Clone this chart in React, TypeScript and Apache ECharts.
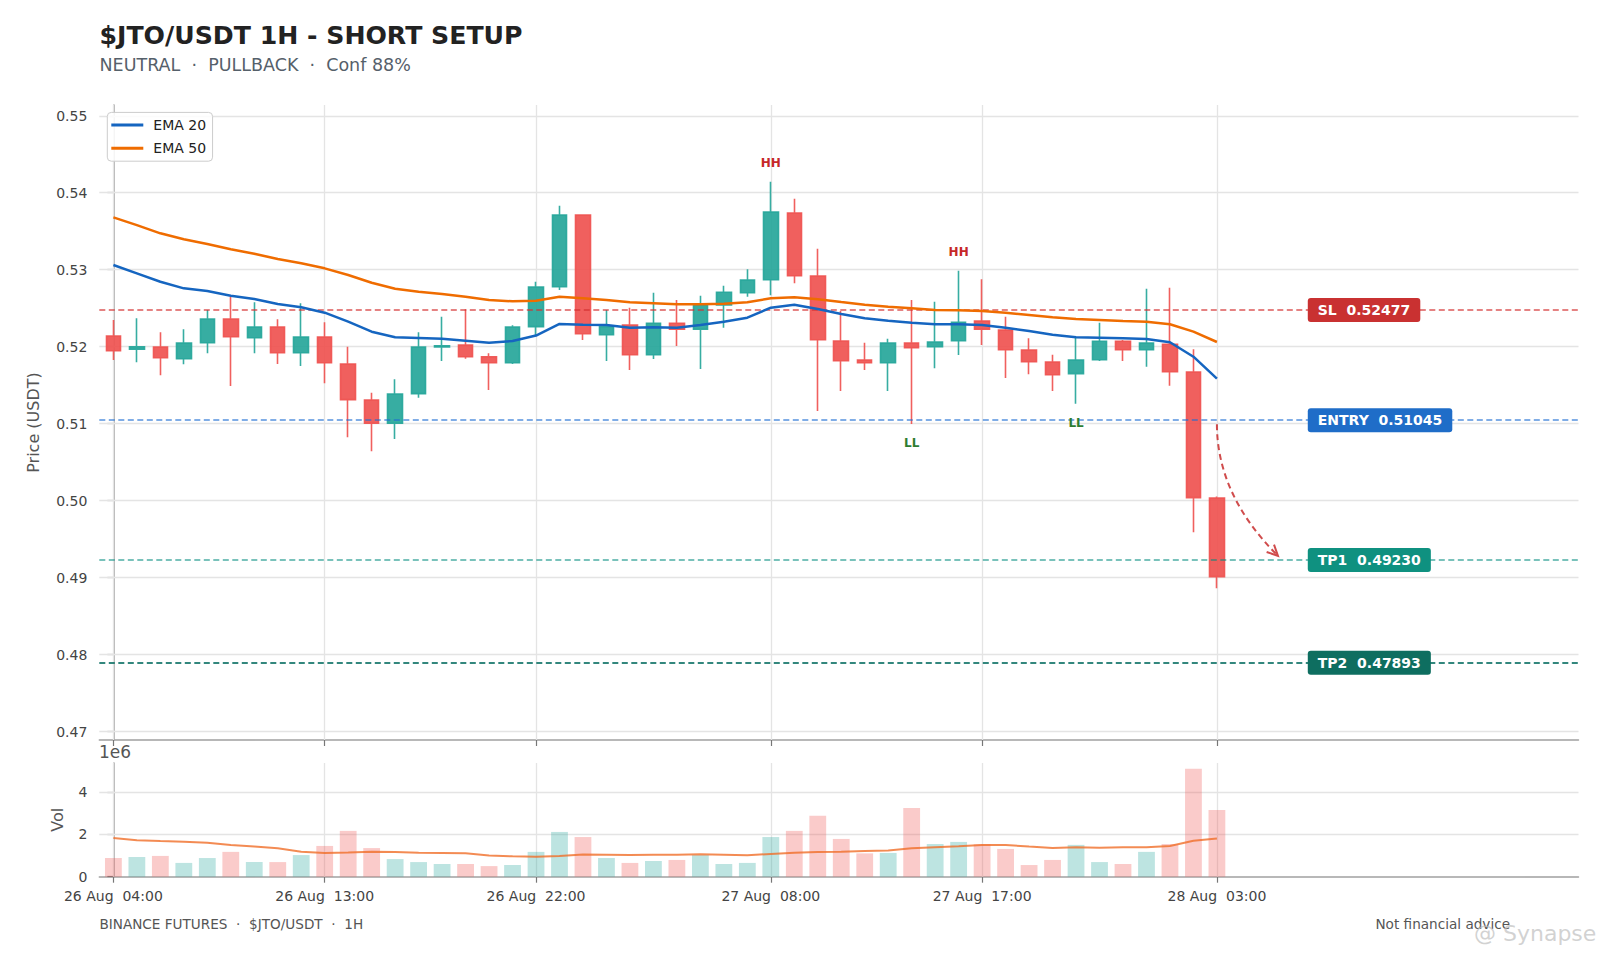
import React, { useEffect, useRef } from "react";
import * as echarts from "echarts";

const FONT = "DejaVu Sans";

// ---- Data ----
const OPEN = [0.52139, 0.51966, 0.51996, 0.51844, 0.52052, 0.5236, 0.52117, 0.52256, 0.51922, 0.52126, 0.51775, 0.51308, 0.51005, 0.5139, 0.51996, 0.52022, 0.5187, 0.51792, 0.5226, 0.52779, 0.5371, 0.52156, 0.52282, 0.51896, 0.52304, 0.52226, 0.52542, 0.52701, 0.5287, 0.53736, 0.52918, 0.52074, 0.51827, 0.51792, 0.52048, 0.52, 0.52078, 0.52334, 0.52217, 0.51957, 0.51801, 0.5165, 0.51831, 0.5207, 0.51961, 0.52031, 0.51671, 0.50035];
const CLOSE = [0.51948, 0.52, 0.51857, 0.52048, 0.5236, 0.5213, 0.52256, 0.51922, 0.52126, 0.51792, 0.51312, 0.51005, 0.51386, 0.51996, 0.52013, 0.5187, 0.51792, 0.52256, 0.52775, 0.5371, 0.52169, 0.5226, 0.51896, 0.52304, 0.52226, 0.52542, 0.52707, 0.52866, 0.53749, 0.52922, 0.52091, 0.51818, 0.51792, 0.52048, 0.51987, 0.52061, 0.52317, 0.52226, 0.51961, 0.51805, 0.51636, 0.51827, 0.5207, 0.51961, 0.52048, 0.51675, 0.50039, 0.49013];
const LOW = [0.51827, 0.51797, 0.51629, 0.51771, 0.51914, 0.5149, 0.51914, 0.51775, 0.5175, 0.51525, 0.50823, 0.5064, 0.50801, 0.51338, 0.51814, 0.51844, 0.51438, 0.51775, 0.52152, 0.52736, 0.52087, 0.51814, 0.51697, 0.5184, 0.52009, 0.5171, 0.52247, 0.52649, 0.52668, 0.52823, 0.51165, 0.51425, 0.51697, 0.51425, 0.50996, 0.5172, 0.51892, 0.52022, 0.51594, 0.51642, 0.51425, 0.5126, 0.51814, 0.51814, 0.5174, 0.51494, 0.4959, 0.48862];
const HIGH = [0.52347, 0.52369, 0.52187, 0.52226, 0.52477, 0.52649, 0.52577, 0.52356, 0.52564, 0.52317, 0.52, 0.51403, 0.51577, 0.52187, 0.5239, 0.52486, 0.51914, 0.52278, 0.52844, 0.53831, 0.5372, 0.52477, 0.52507, 0.52701, 0.52607, 0.52662, 0.52792, 0.53005, 0.54143, 0.53922, 0.53273, 0.52464, 0.52052, 0.52104, 0.52607, 0.52584, 0.52987, 0.52875, 0.5239, 0.52109, 0.51896, 0.52122, 0.52312, 0.52087, 0.52753, 0.52766, 0.51966, 0.50052];
const EMA20 = [0.53061, 0.52953, 0.52844, 0.52758, 0.52723, 0.52662, 0.5262, 0.52555, 0.52512, 0.52442, 0.52325, 0.52195, 0.52122, 0.52113, 0.52104, 0.52078, 0.52052, 0.52074, 0.52145, 0.52295, 0.52286, 0.52282, 0.52247, 0.52252, 0.52247, 0.52282, 0.52325, 0.52377, 0.52507, 0.52545, 0.5249, 0.52425, 0.52369, 0.52338, 0.5231, 0.52291, 0.52291, 0.52282, 0.52247, 0.52204, 0.52156, 0.52122, 0.52117, 0.52109, 0.521, 0.52057, 0.5187, 0.51584];
const EMA50 = [0.5368, 0.5358, 0.53473, 0.53395, 0.53334, 0.53265, 0.53208, 0.53139, 0.53083, 0.53018, 0.52931, 0.52831, 0.52753, 0.52714, 0.52684, 0.52649, 0.52607, 0.5259, 0.52597, 0.52649, 0.52629, 0.52607, 0.52577, 0.52564, 0.52551, 0.52551, 0.52558, 0.52577, 0.52629, 0.52642, 0.52616, 0.5258, 0.52545, 0.5252, 0.525, 0.52477, 0.52473, 0.52464, 0.52442, 0.52412, 0.52382, 0.5236, 0.52347, 0.52334, 0.52325, 0.52291, 0.52195, 0.52061];
const VOLUME = [0.88, 0.93, 0.98, 0.65, 0.88, 1.17, 0.69, 0.69, 1.02, 1.45, 2.16, 1.35, 0.83, 0.69, 0.6, 0.6, 0.5, 0.55, 1.17, 2.11, 1.87, 0.88, 0.65, 0.74, 0.79, 1.02, 0.6, 0.65, 1.87, 2.16, 2.87, 1.78, 1.1, 1.12, 3.24, 1.54, 1.64, 1.53, 1.31, 0.55, 0.79, 1.5, 0.69, 0.6, 1.17, 1.54, 5.09, 3.15];
const VOL_MA = [1.83, 1.72, 1.68, 1.65, 1.6, 1.5, 1.42, 1.34, 1.18, 1.12, 1.14, 1.18, 1.16, 1.13, 1.12, 1.1, 1.0, 0.96, 0.94, 0.98, 1.05, 1.04, 1.02, 1.03, 1.04, 1.06, 1.04, 1.01, 1.07, 1.13, 1.16, 1.18, 1.21, 1.23, 1.34, 1.39, 1.43, 1.5, 1.5, 1.42, 1.35, 1.39, 1.37, 1.39, 1.39, 1.45, 1.69, 1.8];
const VOL_SCALE = 1e6;

const TICK_IDX = [0, 9, 18, 28, 37, 47];
const TICK_LABELS = ["26 Aug  04:00", "26 Aug  13:00", "26 Aug  22:00", "27 Aug  08:00", "27 Aug  17:00", "28 Aug  03:00"];
const PRICE_TICKS = [0.47, 0.48, 0.49, 0.5, 0.51, 0.52, 0.53, 0.54, 0.55];
const VOL_TICKS = [0, 2, 4];

const LEVEL_NAMES = ["SL", "ENTRY", "TP1", "TP2"];
const LEVEL_VALUES = [0.52477, 0.51045, 0.4923, 0.47893];
const LEVEL_LINE_COLORS = ["rgba(211,47,47,0.8)", "rgba(30,110,210,0.75)", "rgba(0,140,125,0.7)", "rgba(0,105,92,0.8)"];
const LEVEL_BADGE_COLORS = ["#c93131", "#1f6dc8", "#0f9180", "#0e6e60"];
const BADGE_X = 50.87;

const HH_IDX = [28, 36];
const LL_IDX = [34, 41];
const ARROW = [[47, 0.51045, 49.6, 0.4923]];

const TITLE = "$JTO/USDT 1H - SHORT SETUP";
const SUBTITLE = "NEUTRAL  \u00b7  PULLBACK  \u00b7  Conf 88%";
const FOOTER_LEFT = "BINANCE FUTURES  \u00b7  $JTO/USDT  \u00b7  1H";
const FOOTER_RIGHT = "Not financial advice";
const WATERMARK = "@ Synapse";

const UP = "#26a69a";
const DOWN = "#ef5350";
const AXIS_COLOR = "#a0a0a0";
const GRID_COLOR = "#e4e4e4";
const LABEL_COLOR = "#444444";

export default function App() {
  const ref = useRef<HTMLDivElement>(null);
  useEffect(() => {
    if (!ref.current) return;
    const chart = echarts.init(ref.current, undefined, { renderer: "svg" });

    const candles = OPEN.map((o, i) => [i, o, CLOSE[i], LOW[i], HIGH[i]]);
    const volData = VOLUME.map((v, i) => ({
      value: [i, v * VOL_SCALE],
      itemStyle: { color: CLOSE[i] >= OPEN[i] ? "rgba(38,166,154,0.3)" : "rgba(239,83,80,0.3)" },
    }));

    const axisLineStyle = { color: AXIS_COLOR, width: 1.5 };
    const tickStyle = { color: "#777", width: 1.2 };

    const gridLines = (yVals: number[], gi: number) => ({
      type: "line",
      xAxisIndex: gi,
      yAxisIndex: gi,
      data: [],
      silent: true,
      z: 0,
      markLine: {
        silent: true,
        z: 1,
        precision: 8,
        symbol: ["none", "none"],
        label: { show: false },
        lineStyle: { color: GRID_COLOR, width: 1.3, type: "solid" },
        data: [...yVals.map((v) => ({ yAxis: v })), ...TICK_IDX.map((v) => ({ xAxis: v }))],
      },
    });

    const option: any = {
      animation: false,
      backgroundColor: "#ffffff",
      textStyle: { fontFamily: FONT },
      grid: [
        { left: 99.3, top: 105, width: 1479.2, height: 635 },
        { left: 99.3, top: 763, width: 1479.2, height: 113.7 },
      ],
      legend: {
        orient: "vertical",
        left: 107.3,
        top: 112.4,
        selectedMode: false,
        data: [
          { name: "EMA 20", icon: "rect" },
          { name: "EMA 50", icon: "rect" },
        ],
        itemWidth: 32,
        itemHeight: 3,
        itemGap: 9.3,
        padding: [5.5, 6.5, 6, 4],
        backgroundColor: "rgba(255,255,255,0.85)",
        borderColor: "#cccccc",
        borderWidth: 1,
        borderRadius: 4,
        textStyle: { fontSize: 14, color: "#222", fontFamily: FONT, padding: [0, 0, 0, 5] },
      },
      xAxis: [
        {
          type: "value",
          gridIndex: 0,
          min: -0.6,
          max: 62.4,
          axisLine: { show: true, onZero: false, lineStyle: axisLineStyle },
          axisTick: { show: true, customValues: TICK_IDX, length: 6, lineStyle: tickStyle },
          axisLabel: { show: false },
          splitLine: { show: false },
        },
        {
          type: "value",
          gridIndex: 1,
          min: -0.6,
          max: 62.4,
          axisLine: { show: true, onZero: false, lineStyle: axisLineStyle },
          axisTick: { show: true, customValues: TICK_IDX, length: 6, lineStyle: tickStyle },
          axisLabel: {
            show: true,
            customValues: TICK_IDX,
            formatter: (v: number) => TICK_LABELS[TICK_IDX.indexOf(v)] ?? "",
            margin: 12,
            color: LABEL_COLOR,
            fontSize: 14,
            fontFamily: FONT,
          },
          splitLine: { show: false },
        },
      ],
      yAxis: [
        {
          type: "value",
          gridIndex: 0,
          min: 0.4689,
          max: 0.5514,
          name: "Price (USDT)",
          nameLocation: "middle",
          nameGap: 58,
          nameTextStyle: { fontSize: 16, color: "#555", fontFamily: FONT },
          axisLine: { show: true, lineStyle: axisLineStyle },
          axisTick: { show: true, customValues: PRICE_TICKS, length: 6, lineStyle: tickStyle },
          axisLabel: {
            show: true,
            customValues: PRICE_TICKS,
            formatter: (v: number) => v.toFixed(2),
            margin: 12,
            color: LABEL_COLOR,
            fontSize: 14,
            fontFamily: FONT,
          },
          splitLine: { show: false },
        },
        {
          type: "value",
          gridIndex: 1,
          min: 0,
          max: 5.36e6,
          name: "Vol",
          nameLocation: "middle",
          nameGap: 34,
          nameTextStyle: { fontSize: 16, color: "#555", fontFamily: FONT },
          axisLine: { show: true, lineStyle: axisLineStyle },
          axisTick: { show: true, customValues: VOL_TICKS.map((v) => v * VOL_SCALE), length: 6, lineStyle: tickStyle },
          axisLabel: {
            show: true,
            customValues: VOL_TICKS.map((v) => v * VOL_SCALE),
            formatter: (v: number) => String(Math.round(v / VOL_SCALE)),
            margin: 12,
            color: LABEL_COLOR,
            fontSize: 14,
            fontFamily: FONT,
          },
          splitLine: { show: false },
        },
      ],
      series: [
        gridLines(PRICE_TICKS, 0),
        gridLines(VOL_TICKS.filter((v) => v > 0).map((v) => v * VOL_SCALE), 1),
        {
          type: "candlestick",
          xAxisIndex: 0,
          yAxisIndex: 0,
          data: candles,
          encode: { x: 0, y: [1, 2, 3, 4] },
          barWidth: 15,
          z: 2,
          itemStyle: {
            color: UP,
            color0: DOWN,
            borderColor: UP,
            borderColor0: DOWN,
            borderColorDoji: UP,
            borderWidth: 1.6,
            opacity: 0.92,
          },
        },
        {
          type: "line",
          xAxisIndex: 0,
          yAxisIndex: 0,
          data: [],
          silent: true,
          z: 3,
          markLine: {
            silent: true,
            z: 3,
            precision: 8,
            symbol: ["none", "none"],
            label: { show: false },
            data: LEVEL_VALUES.map((v, i) => ({
              yAxis: v,
              lineStyle: { color: LEVEL_LINE_COLORS[i], width: i === 3 ? 1.8 : 1.5, type: [6, 3.5] },
            })),
          },
        },
        {
          name: "EMA 20",
          type: "line",
          xAxisIndex: 0,
          yAxisIndex: 0,
          data: EMA20.map((v, i) => [i, v]),
          showSymbol: false,
          symbol: "none",
          z: 5,
          lineStyle: { color: "#1565c0", width: 2.5 },
          itemStyle: { color: "#1565c0" },
        },
        {
          name: "EMA 50",
          type: "line",
          xAxisIndex: 0,
          yAxisIndex: 0,
          data: EMA50.map((v, i) => [i, v]),
          showSymbol: false,
          symbol: "none",
          z: 5,
          lineStyle: { color: "#ef6c00", width: 2.5 },
          itemStyle: { color: "#ef6c00" },
        },
        {
          type: "scatter",
          xAxisIndex: 0,
          yAxisIndex: 0,
          symbolSize: 0,
          z: 6,
          silent: true,
          itemStyle: { opacity: 1 },
          data: HH_IDX.map((i) => [i, HIGH[i]]),
          label: {
            show: true,
            position: "top",
            distance: 13,
            formatter: "HH",
            color: "#c62828",
            fontWeight: "bold",
            fontSize: 12,
            fontFamily: FONT,
          },
        },
        {
          type: "scatter",
          xAxisIndex: 0,
          yAxisIndex: 0,
          symbolSize: 0,
          z: 6,
          silent: true,
          itemStyle: { opacity: 1 },
          data: LL_IDX.map((i) => [i, LOW[i]]),
          label: {
            show: true,
            position: "bottom",
            distance: 13,
            formatter: "LL",
            color: "#2e7d32",
            fontWeight: "bold",
            fontSize: 12,
            fontFamily: FONT,
          },
        },
        {
          type: "custom",
          xAxisIndex: 0,
          yAxisIndex: 0,
          z: 6,
          silent: true,
          data: ARROW,
          encode: { x: [0, 2], y: [1, 3] },
          renderItem: (_p: any, api: any) => {
            const a = api.coord([api.value(0), api.value(1)]);
            const b = api.coord([api.value(2), api.value(3)]);
            const p0 = [a[0], a[1] + 4];
            const p1 = [b[0], b[1] - 4];
            const cp = [p0[0], p1[1] - (p1[0] - p0[0])];
            const dx = p1[0] - cp[0];
            const dy = p1[1] - cp[1];
            const len = Math.hypot(dx, dy) || 1;
            const bx = -dx / len;
            const by = -dy / len;
            const head = 12;
            const ang = 0.45;
            const wing = (s: number) => {
              const c = Math.cos(s * ang);
              const sn = Math.sin(s * ang);
              return [p1[0] + head * (bx * c - by * sn), p1[1] + head * (bx * sn + by * c)];
            };
            const col = "rgba(200,45,45,0.85)";
            return {
              type: "group",
              children: [
                {
                  type: "bezierCurve",
                  shape: { x1: p0[0], y1: p0[1], x2: p1[0], y2: p1[1], cpx1: cp[0], cpy1: cp[1] },
                  style: { stroke: col, lineWidth: 2, lineDash: [6, 4], fill: null },
                },
                {
                  type: "polyline",
                  shape: { points: [wing(1), p1, wing(-1)] },
                  style: { stroke: col, lineWidth: 2, fill: null },
                },
              ],
            };
          },
        },
        {
          type: "scatter",
          xAxisIndex: 0,
          yAxisIndex: 0,
          symbolSize: 0,
          z: 7,
          silent: true,
          itemStyle: { opacity: 1 },
          data: LEVEL_VALUES.map((v, i) => ({
            name: LEVEL_NAMES[i],
            value: [BADGE_X, v],
            label: { backgroundColor: LEVEL_BADGE_COLORS[i] },
          })),
          label: {
            show: true,
            position: "right",
            distance: 0,
            formatter: (p: any) => `${p.name}  ${p.value[1].toFixed(5)}`,
            color: "#ffffff",
            fontWeight: "bold",
            fontSize: 14,
            lineHeight: 14,
            fontFamily: FONT,
            padding: [5, 10, 5, 10],
            borderRadius: 3,
          },
        },
        {
          type: "bar",
          xAxisIndex: 1,
          yAxisIndex: 1,
          data: volData,
          barWidth: 16.8,
          z: 2,
        },
        {
          type: "line",
          xAxisIndex: 1,
          yAxisIndex: 1,
          data: VOL_MA.map((v, i) => [i, v * VOL_SCALE]),
          showSymbol: false,
          symbol: "none",
          z: 4,
          lineStyle: { color: "rgba(240,110,40,0.8)", width: 2 },
        },
      ],
      graphic: [
        {
          type: "text",
          x: 99.5,
          y: 35.5,
          style: { text: TITLE, fontSize: 25.2, fontWeight: "bold", fontFamily: FONT, fill: "#222222", align: "left", verticalAlign: "middle" },
        },
        {
          type: "text",
          x: 99.5,
          y: 64.5,
          style: { text: SUBTITLE, fontSize: 17.5, fontFamily: FONT, fill: "#55606a", align: "left", verticalAlign: "middle" },
        },
        {
          type: "text",
          x: 99,
          y: 752,
          style: { text: "1e6", fontSize: 17, fontFamily: FONT, fill: "#555555", align: "left", verticalAlign: "middle" },
        },
        {
          type: "text",
          x: 99.4,
          y: 924,
          style: { text: FOOTER_LEFT, fontSize: 13.6, fontFamily: FONT, fill: "#555555", align: "left", verticalAlign: "middle" },
        },
        {
          type: "text",
          x: 1510,
          y: 924,
          style: { text: FOOTER_RIGHT, fontSize: 13.6, fontFamily: FONT, fill: "#555555", align: "right", verticalAlign: "middle" },
        },
        {
          type: "text",
          x: 1474,
          y: 933,
          style: { text: WATERMARK, fontSize: 22, fontFamily: FONT, fill: "rgba(190,190,190,0.7)", align: "left", verticalAlign: "middle" },
        },
      ],
    };

    chart.setOption(option);
    return () => chart.dispose();
  }, []);

  return <div ref={ref} style={{ position: "fixed", left: 0, top: 0, width: 1602, height: 957, background: "#fff" }} />;
}
